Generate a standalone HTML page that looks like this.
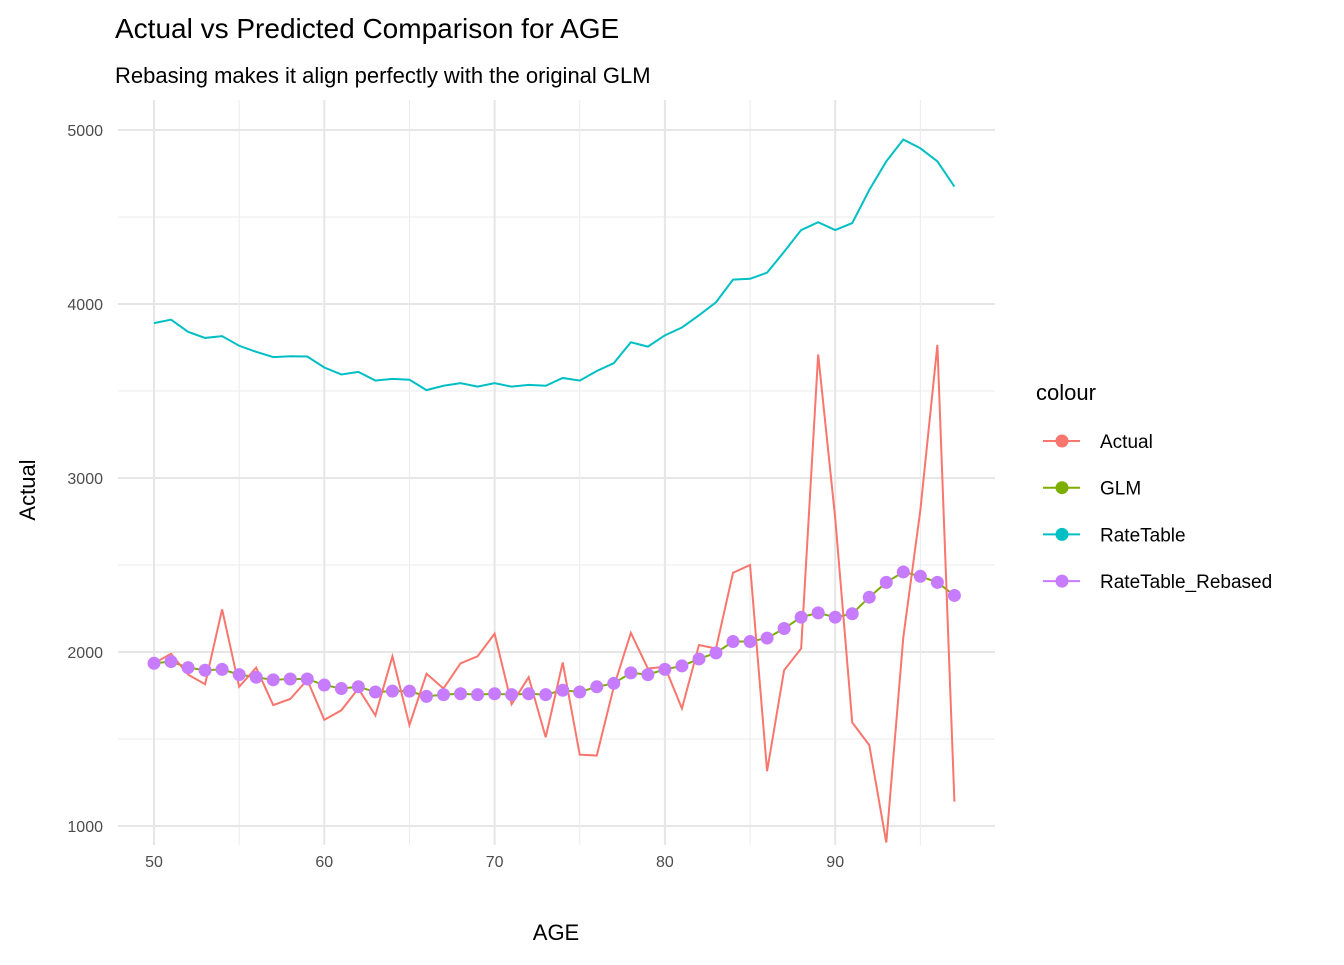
<!DOCTYPE html>
<html><head><meta charset="utf-8"><style>
body{margin:0;background:#fff;font-family:"Liberation Sans",Arial,sans-serif}
svg text{font-family:"Liberation Sans",Arial,sans-serif}
</style></head><body>
<svg id="chart" width="1344" height="960" xmlns="http://www.w3.org/2000/svg">
<rect width="1344" height="960" fill="#fff"/>
<text x="115" y="38" font-size="28" fill="#000">Actual vs Predicted Comparison for AGE</text>
<text x="115" y="83" font-size="22" fill="#000">Rebasing makes it align perfectly with the original GLM</text>
<g id="grid"></g>
<g id="series"></g>
<g id="axes"></g>
<text x="556" y="940" font-size="22" text-anchor="middle">AGE</text>
<text x="35" y="490" font-size="22" text-anchor="middle" transform="rotate(-90 35 490)">Actual</text>
<g id="legend">
<text x="1036" y="400" font-size="22">colour</text>
</g>
</svg>
<script>
const ages=[];for(let a=50;a<=97;a++)ages.push(a);
const rateTable=[3890,3910,3840,3805,3815,3760,3725,3695,3700,3698,3635,3595,3610,3560,3570,3565,3505,3530,3545,3525,3545,3525,3535,3530,3575,3560,3615,3660,3780,3755,3820,3865,3935,4010,4140,4145,4180,4300,4425,4470,4425,4465,4655,4820,4945,4895,4820,4675];
const rebased=[1935,1945,1910,1895,1900,1870,1855,1840,1845,1845,1810,1790,1800,1770,1775,1775,1745,1755,1760,1755,1760,1755,1760,1755,1780,1770,1800,1820,1880,1870,1900,1920,1960,1995,2060,2060,2080,2135,2200,2225,2200,2220,2315,2400,2460,2435,2400,2325];
const glm=[1935,1945,1910,1895,1900,1870,1855,1840,1845,1845,1810,1790,1800,1770,1775,1775,1745,1755,1760,1755,1760,1755,1760,1755,1780,1770,1800,1820,1880,1870,1900,1920,1960,1995,2060,2060,2080,2135,2200,2225,2200,2220,2315,2400,2460,2435,2400,2325];
const actual=[1935,1990,1870,1815,2245,1800,1910,1695,1730,1840,1610,1665,1790,1635,1975,1580,1875,1790,1935,1975,2105,1700,1855,1510,1940,1410,1405,1800,2110,1905,1915,1675,2040,2020,2455,2500,1315,1895,2020,3710,2770,1595,1465,905,2085,2815,3765,1140];
const xTicks=[50,60,70,80,90];
const yTicks=[1000,2000,3000,4000,5000];
const seriesNames=["Actual","GLM","RateTable","RateTable_Rebased"];
const colors=["#F8766D","#7CAE00","#00BFC4","#C77CFF"];

const NS="http://www.w3.org/2000/svg";
const X=v=>154+(v-50)*17.03;
const Y=v=>826-(v-1000)*0.174;
const PL=118,PR=995,PT=100,PB=845;
function mk(tag,attrs,parent){const e=document.createElementNS(NS,tag);for(const k in attrs)e.setAttribute(k,attrs[k]);parent.appendChild(e);return e;}
const grid=document.getElementById('grid'),axes=document.getElementById('axes'),ser=document.getElementById('series'),leg=document.getElementById('legend');
for(let i=0;i<yTicks.length;i++){
 const v=yTicks[i];
 const l=mk('line',{x1:PL,x2:PR,y1:Y(v),y2:Y(v),stroke:'#e6e6e6','stroke-width':2},grid);
 
 if(i<yTicks.length-1){const m=mk('line',{x1:PL,x2:PR,y1:Y(v+500),y2:Y(v+500),stroke:'#ebebeb','stroke-width':1},grid);
 }
 const t=mk('text',{x:PL-15,y:Y(v)+6,'font-size':16,fill:'#4d4d4d','text-anchor':'end'},axes);t.textContent=v;
 
}
for(let i=0;i<xTicks.length;i++){
 const v=xTicks[i];
 const l=mk('line',{x1:X(v),x2:X(v),y1:PT,y2:PB,stroke:'#e6e6e6','stroke-width':2},grid);
 
 const m=mk('line',{x1:X(v+5),x2:X(v+5),y1:PT,y2:PB,stroke:'#ebebeb','stroke-width':1},grid);
 
 const t=mk('text',{x:X(v),y:PB+22,'font-size':16,fill:'#4d4d4d','text-anchor':'middle'},axes);t.textContent=v;
 
}
function line(data,color,name){
 const p=mk('polyline',{points:data.map((v,i)=>X(ages[i])+','+Y(v)).join(' '),fill:'none',stroke:color,'stroke-width':2},ser);
 
}
line(rateTable,colors[2],'ratetable-line');
line(glm,colors[1],'glm-line');
line(actual,colors[0],'actual-line');
rebased.forEach((v,i)=>{const c=mk('circle',{cx:X(ages[i]),cy:Y(v),r:6.5,fill:colors[3]},ser);
 });
seriesNames.forEach((n,i)=>{
 const y=441+i*46.7;
 const g=mk('g',{},leg);
 mk('line',{x1:1043,x2:1080,y1:y,y2:y,stroke:colors[i],'stroke-width':2},g);
 mk('circle',{cx:1062,cy:y,r:6.5,fill:colors[i]},g);
 const t=mk('text',{x:1100,y:y+7,'font-size':19},g);t.textContent=n;
});
</script>
</body></html>
